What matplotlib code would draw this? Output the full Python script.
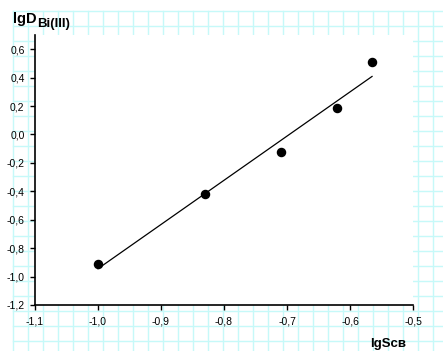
import numpy as np
import matplotlib
matplotlib.use("Agg")
import matplotlib.pyplot as plt
from matplotlib.ticker import FuncFormatter

plt.rcParams['font.family'] = ['Liberation Sans', 'DejaVu Sans']

# data
lg_s = [-1.0, -0.83, -0.71, -0.62, -0.565]
lg_d = [-0.911, -0.417, -0.120, 0.183, 0.508]
x_ticks = [-1.1, -1.0, -0.9, -0.8, -0.7, -0.6, -0.5]
y_ticks = [-1.2, -1.0, -0.8, -0.6, -0.4, -0.2, 0.0, 0.2, 0.4, 0.6]

W, H = 443, 351
fig = plt.figure(figsize=(W / 100, H / 100), dpi=100)

# graph-paper background
bg = fig.add_axes([0, 0, 1, 1])
bg.set_xlim(0, W)
bg.set_ylim(H, 0)
bg.axis('off')
grid_c = '#c6f9f9'
x0, y0 = 12.7, 10.7
for gx in np.arange(x0, W, 15):
    bg.plot([gx, gx], [y0, H], color=grid_c, lw=1.0)
for gy in np.arange(y0, H, 15):
    bg.plot([x0, W], [gy, gy], color=grid_c, lw=1.0)

ax = fig.add_axes([35 / W, 1 - 305 / H, (413 - 35) / W, (305 - 35) / H])
ax.set_facecolor('white')
ax.set_xlim(-1.1, -0.5)
ax.set_ylim(-1.2, 0.7)

ax.scatter(lg_s, lg_d, s=34, color='black', zorder=3)
coef = np.polyfit(lg_s, lg_d, 1)
xf = np.array([min(lg_s), max(lg_s)])
ax.plot(xf, np.polyval(coef, xf), color='black', lw=0.9)

for s in ['top', 'right']:
    ax.spines[s].set_visible(False)
for s in ['left', 'bottom']:
    ax.spines[s].set_linewidth(1.2)
    ax.spines[s].set_color('black')

fmt = FuncFormatter(lambda v, p: f"{v:.1f}".replace('.', ',').replace('-0,0', '0,0'))
ax.set_xticks(x_ticks)
ax.set_yticks(y_ticks)
ax.xaxis.set_major_formatter(fmt)
ax.yaxis.set_major_formatter(fmt)
ax.tick_params(axis='both', direction='out', length=3.5, width=1.0,
               labelsize=7.5, colors='black')
ax.tick_params(axis='x', pad=5)
ax.tick_params(axis='y', pad=4)

fig.text(13 / W, 1 - 23 / H, 'lgD', fontsize=10.5, fontweight='bold', ha='left', va='baseline')
fig.text(37 / W, 1 - 27 / H, 'Bi(III)', fontsize=9.5, fontweight='bold', ha='left', va='baseline')
fig.text(370 / W, 1 - 347 / H, 'lgSсв', fontsize=9.5, fontweight='bold', ha='left', va='baseline')

fig.savefig('out.png', dpi=100)
